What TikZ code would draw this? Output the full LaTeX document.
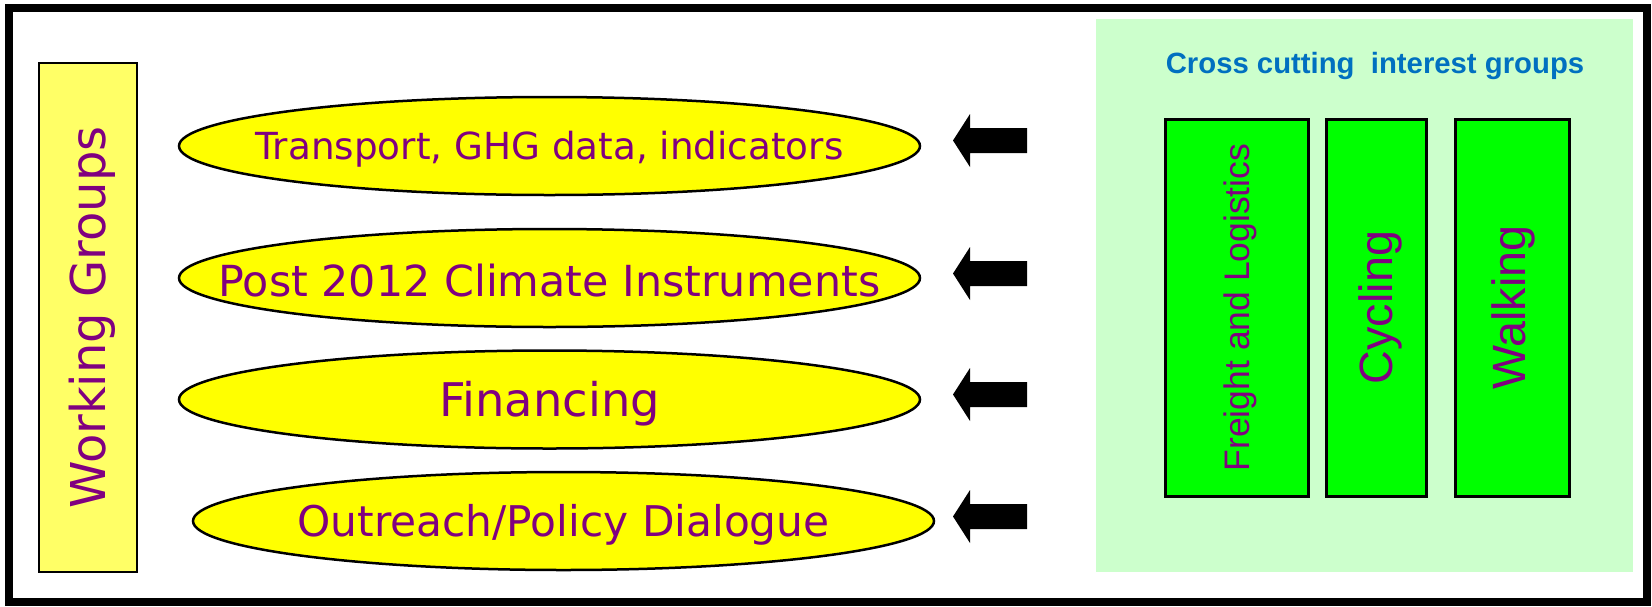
\documentclass[tikz,border=0pt]{standalone}
\usepackage{fontspec}
\setmainfont{DejaVu Sans}
\newfontfamily\arialf{Liberation Sans}
\usetikzlibrary{shapes.geometric}
\definecolor{wgpurple}{RGB}{128,0,128}
\definecolor{wgyellow}{RGB}{255,255,0}
\definecolor{wglight}{RGB}{255,255,102}
\definecolor{ccgreen}{RGB}{0,255,0}
\definecolor{ccpanel}{RGB}{204,255,204}
\definecolor{ccblue}{RGB}{0,112,192}
\tikzset{
  wgell/.style={ellipse, draw=black, line width=2.5pt, fill=wgyellow, inner sep=0pt, minimum width=741pt, minimum height=98pt},
  wgtext/.style={text=wgpurple, inner sep=0pt},
  ccbox/.style={draw=black, line width=3pt, fill=ccgreen},
  cctext/.style={text=wgpurple, inner sep=0pt, rotate=90, font=\arialf\fontsize{35.5}{40}\selectfont},
  blockarrow/.pic={\fill[black] (0,0) -- (17,-26.5) -- (17,-12.5) -- (74,-12.5) -- (74,12.5) -- (17,12.5) -- (17,26.5) -- cycle;}
}
\begin{document}
\begin{tikzpicture}[x=1pt,y=-1pt]
\useasboundingbox (0,0) rectangle (1652,606);
\fill[white] (0,0) rectangle (1652,606);
% outer frame
\draw[line width=8pt] (9,8) rectangle (1647,602);
% working groups box
\draw[line width=2pt, fill=wglight] (39,63) rectangle (137,572);
\node[wgtext, rotate=90, font=\fontsize{48}{54}\selectfont] (wg) at (92,317.5) {Working Groups};
% ellipses
\node[wgell] (e1) at (549.5,146) {};
\node[wgell] (e2) at (549.5,278) {};
\node[wgell] (e3) at (549.5,399.5) {};
\node[wgell] (e4) at (563.5,521) {};
\node[wgtext, font=\fontsize{37.3}{44}\selectfont] (t1) at ([yshift=-3pt]e1.center) {Transport, GHG data, indicators};
\node[wgtext, font=\fontsize{42.8}{50}\selectfont] (t2) at ([yshift=-3pt]e2.center) {Post 2012 Climate Instruments};
\node[wgtext, font=\fontsize{46.4}{54}\selectfont] (t3) at ([yshift=-4pt]e3.center) {Financing};
\node[wgtext, font=\fontsize{42.3}{50}\selectfont] (t4) at ([yshift=-4pt]e4.center) {Outreach/Policy Dialogue};
% arrows
\pic at (953,140.5) {blockarrow};
\pic at (953,273.5) {blockarrow};
\pic at (953,394.5) {blockarrow};
\pic at (953,516.5) {blockarrow};
% cross cutting panel
\fill[ccpanel] (1096,19) rectangle (1633,572);
\node[anchor=base, text=ccblue, inner sep=0pt, font=\arialf\bfseries\fontsize{29.3}{34}\selectfont] (title) at (1375,73) {Cross cutting\ \ interest groups};
\draw[ccbox] (1165,119) rectangle (1308,496);
\draw[ccbox] (1326,119) rectangle (1426,496);
\draw[ccbox] (1455,119) rectangle (1569,496);
\node[cctext] (fr) at (1240.5,307.5) {Freight and Logistics};
\node[cctext, font=\arialf\fontsize{46.7}{54}\selectfont] (cy) at (1380,307.5) {Cycling};
\node[cctext, font=\arialf\fontsize{46.7}{54}\selectfont] (wk) at (1513,307.5) {Walking};
\end{tikzpicture}
\end{document}
